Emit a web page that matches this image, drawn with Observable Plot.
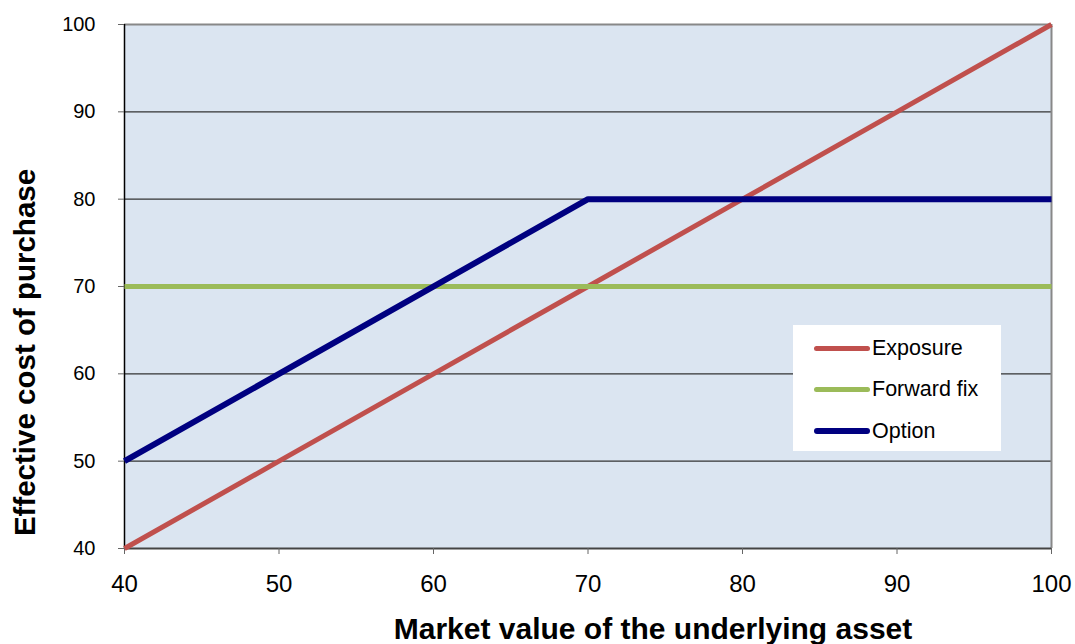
<!DOCTYPE html>
<html><head><meta charset="utf-8">
<script src="https://cdn.jsdelivr.net/npm/d3@7"></script>
<script src="https://cdn.jsdelivr.net/npm/@observablehq/plot@0.6"></script>
<style>
body{margin:0;background:#fff;font-family:"Liberation Sans",Arial,sans-serif;}
#wrap{position:relative;width:1075px;height:644px;}
#legend{position:absolute;left:793px;top:325px;width:208px;height:126px;background:#fff;font-size:21.5px;color:#000;}
#legend .row{position:absolute;left:21px;height:24px;display:flex;align-items:center;}
#legend .sw{width:56px;height:5px;border-radius:3px;margin-right:2px;}
</style></head>
<body><div id="wrap"></div>
<script>
const xValues = [40, 50, 60, 70, 80, 90, 100];
const exposure = [40, 50, 60, 70, 80, 90, 100];
const forwardFix = [70, 70, 70, 70, 70, 70, 70];
const optionX = [40, 70, 100];
const optionY = [50, 80, 80];
const seriesNames = ["Exposure", "Forward fix", "Option"];
const seriesColors = ["#C0504D", "#9BBB59", "#000080"];
const seriesWidths = [5, 5, 6];
const yTicks = [40, 50, 60, 70, 80, 90, 100];
const xTicks = [40, 50, 60, 70, 80, 90, 100];

const data = [
  ...xValues.map((x, i) => ({x, y: exposure[i], s: seriesNames[0]})),
  ...xValues.map((x, i) => ({x, y: forwardFix[i], s: seriesNames[1]})),
  ...optionX.map((x, i) => ({x, y: optionY[i], s: seriesNames[2]}))
];

const chart = Plot.plot({
  width: 1075, height: 644,
  marginLeft: 124, marginRight: 24, marginTop: 24, marginBottom: 96,
  style: {fontFamily: '"Liberation Sans", Arial, sans-serif', background: "#fff", overflow: "visible"},
  x: {domain: [40, 100], ticks: xTicks, label: null},
  y: {domain: [40, 100], ticks: yTicks, label: null},
  color: {domain: seriesNames, range: seriesColors},
  marks: [
    Plot.frame({fill: "#DBE5F1"}),
    Plot.gridY(yTicks, {stroke: "#333", strokeOpacity: 1, strokeWidth: 1.2}),
    Plot.ruleY([100], {stroke: "#888", strokeWidth: 2}),
    Plot.ruleX([100], {stroke: "#888", strokeWidth: 2}),
    Plot.ruleX([40], {stroke: "#000", strokeWidth: 1.5}),
    Plot.ruleY([40], {stroke: "#444", strokeWidth: 2}),
    Plot.axisY(yTicks, {tickSize: 6, tickPadding: 23, fontSize: 20, fill: "#000", stroke: "#666"}),
    Plot.axisX(xTicks, {tickSize: 6, tickPadding: 20, fontSize: 24, fill: "#000", stroke: "#666"}),
    ...seriesNames.map((n, i) => Plot.line(data.filter(d => d.s === n), {x: "x", y: "y", stroke: seriesColors[i], strokeWidth: seriesWidths[i], strokeLinecap: "butt", strokeLinejoin: "miter"})),
    Plot.text(["Market value of the underlying asset"], {frameAnchor: "bottom", dx: 65, dy: 90, fontSize: 30, fontWeight: "bold", fill: "#000"}),
    Plot.text(["Effective cost of purchase"], {frameAnchor: "left", textAnchor: "middle", dx: -99, dy: 66, rotate: -90, fontSize: 29.5, fontWeight: "bold", fill: "#000"})
  ]
});
const wrap = document.getElementById("wrap");
wrap.appendChild(chart);
const leg = document.createElement("div");
leg.id = "legend";
const rowTops = [11, 52, 94];
seriesNames.forEach((n, i) => {
  const r = document.createElement("div");
  r.className = "row";
  r.style.top = rowTops[i] + "px";
  r.innerHTML = `<span class="sw" style="background:${seriesColors[i]};height:${seriesWidths[i]}px"></span><span>${n}</span>`;
  leg.appendChild(r);
});
wrap.appendChild(leg);
</script></body></html>
